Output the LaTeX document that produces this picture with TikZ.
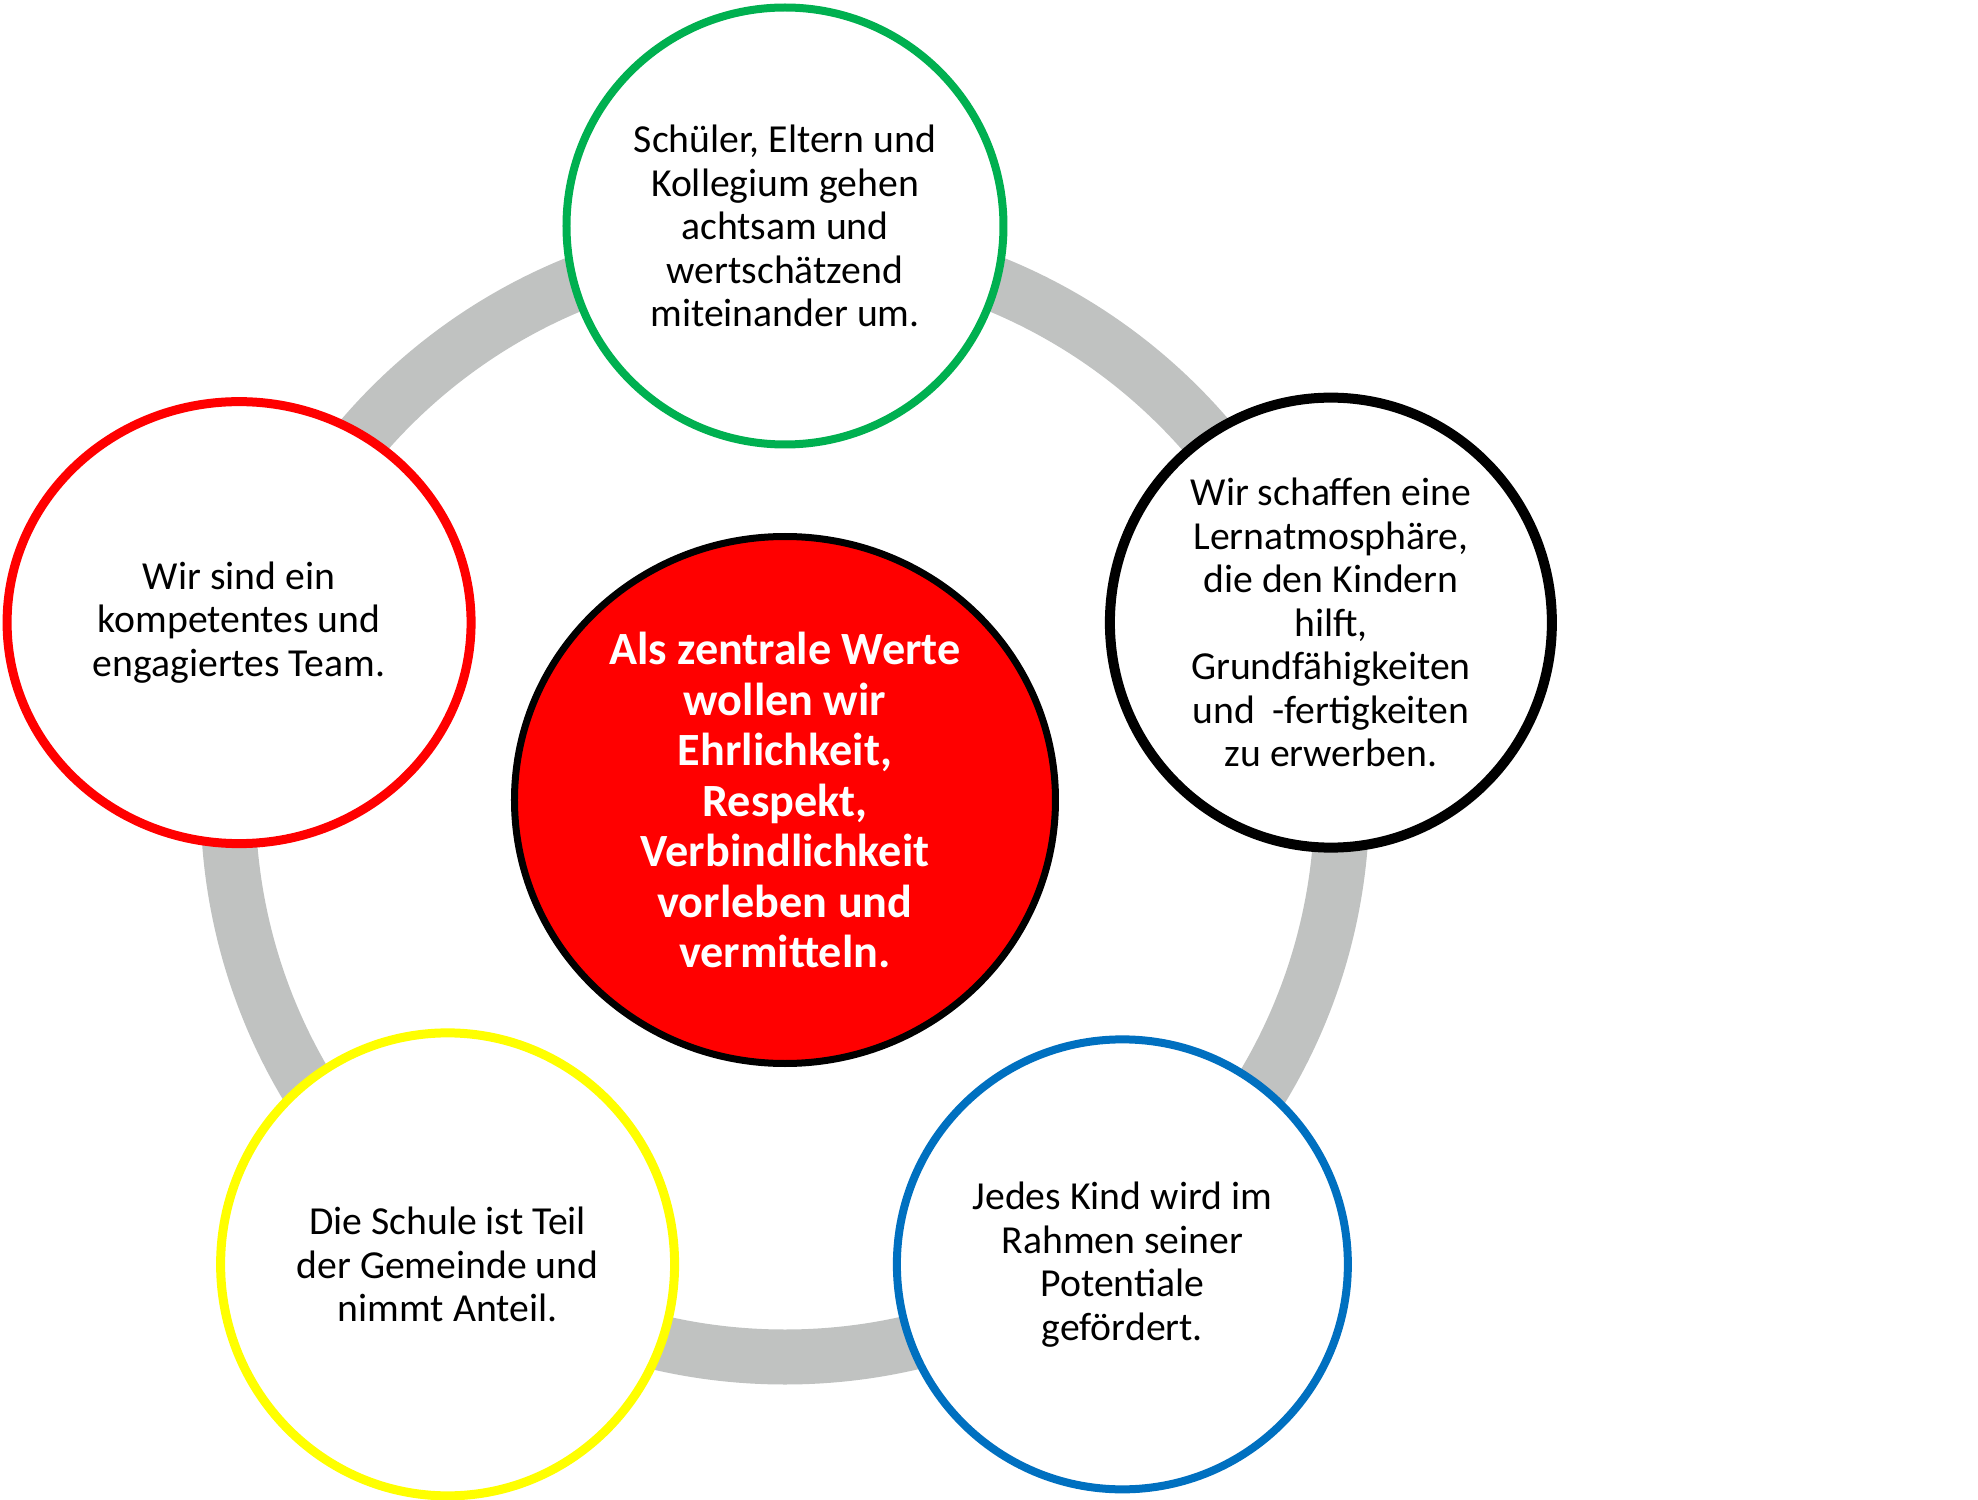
\documentclass[tikz,border=0pt]{standalone}
\usepackage{fontspec}
\setmainfont{Carlito}
\usetikzlibrary{shapes.geometric}
\definecolor{ringgray}{HTML}{C0C2C1}
\definecolor{valgreen}{HTML}{00B050}
\definecolor{valblue}{HTML}{0070C0}
\definecolor{valyellow}{HTML}{FFFF00}
\tikzset{
    value/.style={ellipse, draw, fill=white, inner sep=0pt, align=center,
        font=\fontsize{19.85}{21.75}\selectfont},
    core/.style={value, fill=red, text=white, line width=3.5pt,
        font=\fontsize{23.1}{25.25}\selectfont\bfseries}
}
\def\r{574}

\begin{document}
\begin{tikzpicture}[x=0.5pt, y=0.5pt]
    \fill[white] (-785, -700) rectangle (1193, 800);
    \useasboundingbox (-785, -700) rectangle (1193, 800);
    \coordinate (mid) at (0, 0);
    \draw
        [ringgray, line width=27.5pt]
        (mid) circle [radius=278.5pt]
    ;
    \draw
        node (umgang) [value, draw=valgreen, line width=4pt,
            minimum width=218.5pt, minimum height=218.5pt] at (90:\r)
            {Schüler, Eltern und\\Kollegium gehen\\achtsam und\\wertschätzend\\miteinander um.}
        node (klima) [value, draw=black, line width=5pt,
            minimum width=221pt, minimum height=225pt] at (18:\r)
            {Wir schaffen eine\\Lernatmosphäre,\\die den Kindern\\hilft,\\Grundfähigkeiten\\und\ \ -fertigkeiten\\zu erwerben.}
        node (foerdern) [value, draw=valblue, line width=4pt,
            minimum width=225.5pt, minimum height=225pt] at (-54:\r)
            {Jedes Kind wird im\\Rahmen seiner\\Potentiale\\gefördert.}
        node (gemeinde) [value, draw=valyellow, line width=4.5pt,
            minimum width=227pt, minimum height=231.5pt] at (-126:\r)
            {Die Schule ist Teil\\der Gemeinde und\\nimmt Anteil.}
        node (team) [value, draw=red, line width=4.5pt,
            minimum width=232pt, minimum height=221pt] at (162:\r)
            {Wir sind ein\\kompetentes und\\engagiertes Team.}
    ;
    \draw
        node (werte) [core, minimum width=270.5pt, minimum height=263.5pt] at (mid)
            {Als zentrale Werte\\wollen wir\\Ehrlichkeit,\\Respekt,\\Verbindlichkeit\\vorleben und\\vermitteln.}
    ;
\end{tikzpicture}
\end{document}
